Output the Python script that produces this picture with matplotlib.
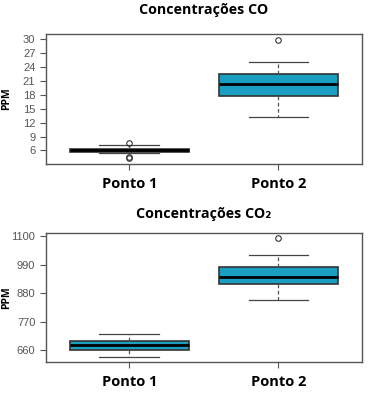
import matplotlib.pyplot as plt

# Dados (estatísticas dos boxplots)
pontos = ["Ponto 1", "Ponto 2"]

co_q1 = [5.7, 17.8]
co_med = [6.0, 20.4]
co_q3 = [6.3, 22.5]
co_whislo = [5.5, 13.2]
co_whishi = [7.1, 25.0]
co_fliers = [[7.5, 4.6, 4.3], [29.8]]

co2_q1 = [660, 915]
co2_med = [681, 943]
co2_q3 = [695, 983]
co2_whislo = [633, 853]
co2_whishi = [722, 1027]
co2_fliers = [[], [1093]]

co_ticks = [6, 9, 12, 15, 18, 21, 24, 27, 30]
co2_ticks = [660, 770, 880, 990, 1100]

cor = "#1a9fc3"


def stats(q1, med, q3, lo, hi, fl):
    return [dict(q1=q1[i], med=med[i], q3=q3[i], whislo=lo[i], whishi=hi[i],
                 fliers=fl[i], label=pontos[i]) for i in range(len(q1))]


def desenha(ax, st, ticks, ylim, titulo, ytitulo):
    b = ax.bxp(st, positions=[1, 2], widths=0.8, patch_artist=True,
               boxprops=dict(facecolor=cor, edgecolor="#333333", linewidth=1.2),
               medianprops=dict(color="black", linewidth=2),
               whiskerprops=dict(color="#555555", linestyle=(0, (3, 2)), linewidth=0.9),
               capprops=dict(color="#444444", linewidth=0.9),
               flierprops=dict(marker="o", markersize=4, markerfacecolor="none",
                               markeredgecolor="#333333", markeredgewidth=0.8))
    for c in b["caps"]:
        x = c.get_xdata()
        m = (x[0] + x[1]) / 2
        c.set_xdata([m - 0.2, m + 0.2])
    ax.set_xlim(0.44, 2.56)
    ax.set_ylim(*ylim)
    ax.set_yticks(ticks)
    ax.set_yticklabels([str(t) for t in ticks], fontsize=8, color="#444444",
                       family="Liberation Sans")
    ax.set_xticks([1, 2])
    ax.set_xticklabels([])
    ax.tick_params(axis="both", colors="#555555", length=4, width=0.8)
    for s in ax.spines.values():
        s.set_color("#555555")
        s.set_linewidth(1.0)
    ax.set_ylabel("PPM", fontsize=7.5, fontweight="bold", family="Open Sans",
                  labelpad=2)
    ax.yaxis.set_label_coords(-0.105, 0.5)
    for i, p in enumerate(pontos):
        ax.annotate(p, xy=(i + 1, 0), xycoords=("data", "axes fraction"),
                    xytext=(0, -14.5), textcoords="offset points", ha="center",
                    va="center", fontsize=10.5, fontweight="bold", family="Open Sans")
    ax.text(0.5, ytitulo, titulo, transform=ax.transAxes, ha="center", va="center",
            fontsize=10.3, fontweight="bold", family=["Open Sans", "DejaVu Sans"])


fig = plt.figure(figsize=(3.72, 3.94), dpi=100)
ax1 = fig.add_axes([0.123, 0.584, 0.85, 0.33])
ax2 = fig.add_axes([0.123, 0.082, 0.85, 0.326])

desenha(ax1, stats(co_q1, co_med, co_q3, co_whislo, co_whishi, co_fliers),
        co_ticks, (3.1, 31.1), "Concentrações CO", 1.185)
desenha(ax2, stats(co2_q1, co2_med, co2_q3, co2_whislo, co2_whishi, co2_fliers),
        co2_ticks, (616, 1112), "Concentrações CO₂", 1.15)

plt.savefig("out.png", dpi=100)
